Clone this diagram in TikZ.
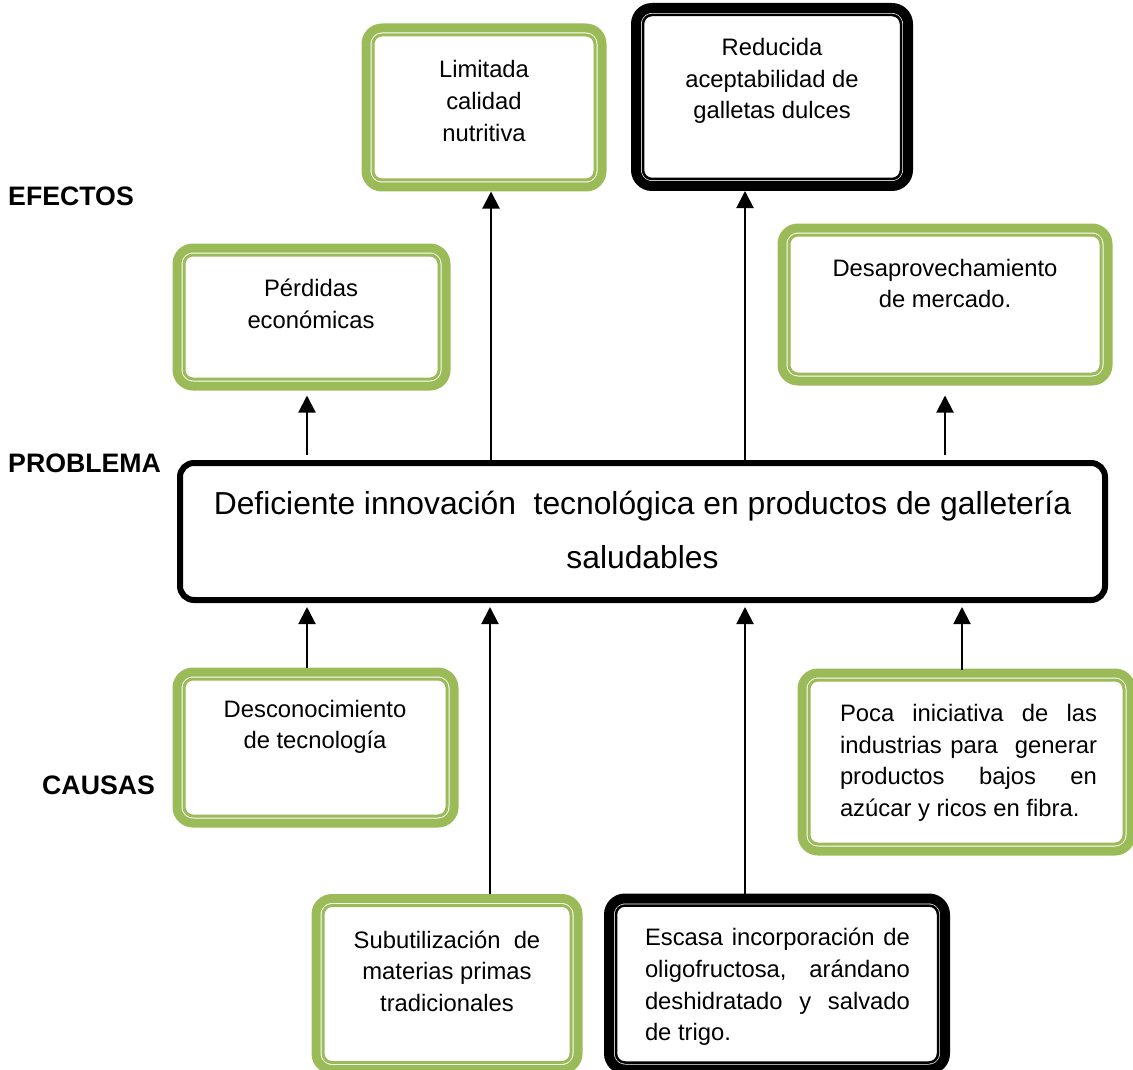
\documentclass[tikz,border=0pt]{standalone}
\usepackage{fontspec}
\setmainfont{Liberation Sans}
\usetikzlibrary{arrows.meta}
\definecolor{boxgreen}{HTML}{9BBB59}

\begin{document}
\begin{tikzpicture}[x=1pt,y=-1pt,
  greenbox/.style={draw=boxgreen, line width=9pt, rounded corners=16pt, fill=white, inner sep=0pt},
  blackbox/.style={draw=black, line width=10pt, rounded corners=16pt, fill=white, inner sep=0pt},
  mainbox/.style={draw=black, line width=6pt, rounded corners=14pt, fill=white, inner sep=0pt},
  greeninner/.style={draw=boxgreen, line width=3pt, rounded corners=9pt},
  blackinner/.style={draw=black, line width=2.5pt, rounded corners=9pt},
  txt/.style={font=\fontsize{23.8}{31.6}\selectfont, align=center, inner sep=0pt},
  jtxt/.style={font=\fontsize{23.8}{31.6}\selectfont, align=justify, inner sep=0pt},
  lbl/.style={font=\fontsize{26.7}{32}\selectfont\bfseries, anchor=west, inner sep=0pt},
  arr/.style={-{Triangle[width=17pt,length=17pt]}, line width=2pt},
]
\useasboundingbox (0,0) rectangle (1133,1070);

% row labels
\node[lbl] (efectos)  at (8,196) {EFECTOS};
\node[lbl] (problema) at (8,463) {PROBLEMA};
\node[lbl] (causas)   at (42,785) {CAUSAS};

% effect boxes
\node[greenbox, minimum width=236pt, minimum height=159pt] (lim)  at (484,107.5) {};
\node[blackbox, minimum width=272pt, minimum height=178pt] (red)  at (772,97) {};
\node[greenbox, minimum width=269pt, minimum height=138pt] (per)  at (311.5,317) {};
\node[greenbox, minimum width=326pt, minimum height=153pt] (desa) at (945,304.5) {};

% problem box
\node[mainbox, minimum width=925pt, minimum height=137pt] (main) at (642.5,531.5) {};

% cause boxes
\node[greenbox, minimum width=277pt, minimum height=151pt] (desc) at (315.5,747.5) {};
\node[greenbox, minimum width=329pt, minimum height=178pt] (poca) at (966.5,762) {};
\node[greenbox, minimum width=262pt, minimum height=171pt] (sub)  at (447,984) {};
\node[blackbox, minimum width=336pt, minimum height=171pt] (esc)  at (777,984) {};

% thin inner frames of the compound borders
\foreach \n in {lim,per,desa,desc,poca,sub}
  \draw[greeninner] ([xshift=11.5pt,yshift=-11.5pt]\n.north west) rectangle ([xshift=-11.5pt,yshift=11.5pt]\n.south east);
\foreach \n in {red,esc}
  \draw[blackinner] ([xshift=12pt,yshift=-12pt]\n.north west) rectangle ([xshift=-12pt,yshift=12pt]\n.south east);

% box texts
\node[txt] (lim-t)  at (484,101)   {Limitada\\calidad\\nutritiva};
\node[txt] (red-t)  at (772,81)    {Reducida\\aceptabilidad de\\galletas dulces};
\node[txt] (per-t)  at (311,304)   {Pérdidas\\económicas};
\node[txt] (desa-t) at (945,283.5) {Desaprovechamiento\\de mercado.};
\node[font=\fontsize{31.8}{54}\selectfont, align=center, inner sep=0pt] (main-t) at (642.5,530)
  {Deficiente innovación\ \ tecnológica en productos de galletería\\saludables};
\node[txt] (desc-t) at (315,727)   {Desconocimiento\\de tecnología};
\node[jtxt, text width=257pt] (poca-t) at (968.5,763)
  {Poca iniciativa de las\linebreak industrias para\ \ generar\linebreak productos bajos en\linebreak azúcar y ricos en fibra.};
\node[txt] (sub-t)  at (447,971)   {Subutilización\ \ de\\materias primas\\tradicionales};
\node[jtxt, text width=265pt] (esc-t) at (777.5,987)
  {Escasa incorporación de\linebreak oligofructosa, arándano\linebreak deshidratado y salvado\linebreak de trigo.};

% arrow columns
\coordinate (c1) at (307,455);
\coordinate (c2) at (491,0);
\coordinate (c3) at (745,0);
\coordinate (c4) at (945,455);
\coordinate (d1) at (307,668);
\coordinate (d2) at (490,0);
\coordinate (d3) at (745,0);
\coordinate (d4) at (962,670);

% effects
\draw[arr, shorten >=5pt]  (c1) -- (per.south -| c1);
\draw[arr] (main.north -| c2) -- (lim.south -| c2);
\draw[arr] (main.north -| c3) -- (red.south -| c3);
\draw[arr, shorten >=10pt] (c4) -- (desa.south -| c4);

% causes
\draw[arr, shorten >=4pt] (d1) -- (main.south -| d1);
\draw[arr, shorten >=4pt] (sub.north -| d2) -- (main.south -| d2);
\draw[arr, shorten >=4pt] (esc.north -| d3) -- (main.south -| d3);
\draw[arr, shorten >=4pt] (d4) -- (main.south -| d4);
\end{tikzpicture}
\end{document}
